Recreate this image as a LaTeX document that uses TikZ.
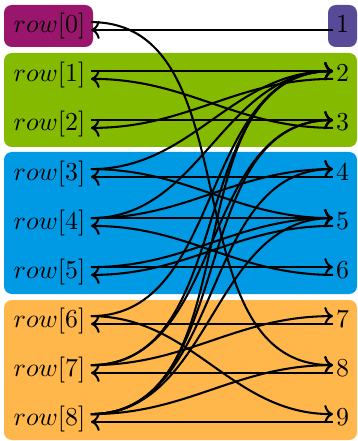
\documentclass[tikz,border=0pt]{standalone}
\usetikzlibrary{arrows.meta}
\definecolor{boxpurple}{RGB}{153,22,108}
\definecolor{boxviolet}{RGB}{88,74,150}
\definecolor{boxgreen}{RGB}{132,187,0}
\definecolor{boxblue}{RGB}{0,154,228}
\definecolor{boxorange}{RGB}{255,183,76}
\begin{document}
\begin{tikzpicture}[x=0.386pt,y=-0.386pt,
  rowlab/.style={anchor=base west,inner sep=2pt},
  numlab/.style={anchor=base west,inner sep=1pt},
  link/.style={line width=0.8pt,->},
  band/.style={rounded corners=3pt}]
\useasboundingbox (0,0) rectangle (358,441);
\fill[band,boxpurple] (4,5) rectangle (93,47);
\fill[band,boxviolet] (328,5) rectangle (357,47);
\fill[band,boxgreen] (4,53) rectangle (357,147);
\fill[band,boxblue] (4,152) rectangle (357,294);
\fill[band,boxorange] (4,300) rectangle (357,440);
\foreach \i in {0,...,8}
  \node[rowlab] (r\i) at (8,{33+49*\i}) {$row[\i]$};
\foreach \j in {1,...,9}
  \node[numlab] (n\j) at (333,{33+49*(\j-1)}) {$\j$};
\foreach \a/\b in {0/8,1/2,2/3,3/2,3/5,4/2,4/4,4/5,5/5,5/6,6/2,6/9,7/2,7/3,7/7,8/2,8/3,8/4,8/5,8/8}
  \draw[link] ([yshift=4.2pt]r\a.base east) to[out=0,in=180] ([yshift=4.2pt]n\b.base west);
\foreach \b/\a in {1/0,3/1,2/2,4/3,6/4,5/5,7/6,8/7,9/8}
  \draw[link] ([yshift=1.2pt]n\b.base west) to[out=180,in=0] ([yshift=1.2pt]r\a.base east);
\end{tikzpicture}
\end{document}
